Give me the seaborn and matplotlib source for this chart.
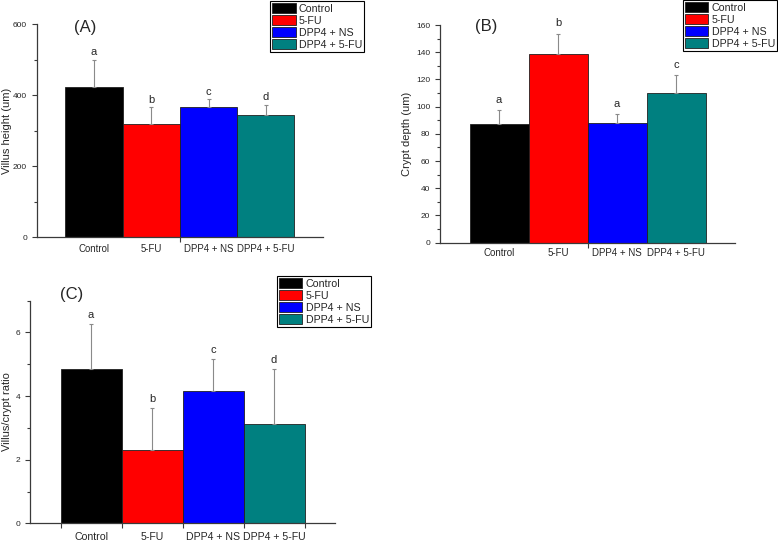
import numpy as np
import matplotlib.pyplot as plt
import seaborn as sns
from matplotlib.patches import Patch
from matplotlib.ticker import MultipleLocator, FixedLocator

# Groups and colours
groups = ['Control', '5-FU', 'DPP4 + NS', 'DPP4 + 5-FU']
colors = ['#000000', '#ff0000', '#0000ff', '#008080']

# (A) villus height
villus_mean = [422, 318, 367, 345]
villus_err = [78, 47, 22, 28]
villus_letters = ['a', 'b', 'c', 'd']

# (B) crypt depth
crypt_mean = [87, 138.5, 88, 110]
crypt_err = [10.5, 15, 6.3, 13]
crypt_letters = ['a', 'b', 'a', 'c']

# (C) villus / crypt ratio
ratio_mean = [4.85, 2.32, 4.15, 3.13]
ratio_err = [1.41, 1.31, 1.02, 1.71]
ratio_letters = ['a', 'b', 'c', 'd']

sns.set_style('ticks')
plt.rcParams['font.family'] = ['Liberation Sans', 'DejaVu Sans']

fig = plt.figure(figsize=(7.78, 5.45), dpi=100)


def draw_panel(rect, mean, err, letters, ylabel, ylim, major, minor, tag, tag_xy,
               ylabel_x, xpad, xtick_pos, letter_off, legend_anchor, xfont):
    ax = fig.add_axes(rect)
    sns.barplot(x=groups, y=mean, hue=groups, palette=colors, width=1, saturation=1,
                edgecolor='#202020', linewidth=0.6, legend=False, ax=ax)
    ax.errorbar(range(len(groups)), mean, yerr=[np.zeros(len(err)), err], fmt='none',
                ecolor='#8a8a8a', elinewidth=0.8, capsize=1.6, capthick=0.8)
    for i, (m, e, l) in enumerate(zip(mean, err, letters)):
        ax.annotate(l, (i, m + e), xytext=(0, letter_off), textcoords='offset points',
                    ha='center', va='center', fontsize=8)

    ax.set_xlim(-1, 4)
    ax.set_ylim(*ylim)
    ax.yaxis.set_major_locator(MultipleLocator(major))
    ax.yaxis.set_minor_locator(MultipleLocator(minor))
    ax.xaxis.set_minor_locator(FixedLocator(xtick_pos))
    ax.tick_params(axis='x', which='major', length=0, pad=xpad, labelsize=xfont)
    ax.tick_params(axis='x', which='minor', length=3.5, width=0.8, color='#3a3a3a')
    ax.tick_params(axis='y', which='major', length=3.5, width=0.8, labelsize=6, color='#3a3a3a')
    ax.tick_params(axis='y', which='minor', length=2, width=0.8, color='#3a3a3a')
    for side in ['top', 'right']:
        ax.spines[side].set_visible(False)
    for side in ['left', 'bottom']:
        ax.spines[side].set_color('#3a3a3a')
        ax.spines[side].set_linewidth(0.9)

    ax.set_ylabel(ylabel, fontsize=8)
    ax.yaxis.set_label_coords(ylabel_x, 0.5)
    ax.set_xlabel('')
    ax.text(tag_xy[0], tag_xy[1], tag, transform=ax.transAxes, fontsize=12,
            ha='center', va='center')

    handles = [Patch(facecolor=c, edgecolor='#202020', linewidth=0.6) for c in colors]
    leg = fig.legend(handles, groups, loc='upper left', bbox_to_anchor=legend_anchor,
                     bbox_transform=fig.transFigure, frameon=True, fancybox=False,
                     edgecolor='black', framealpha=1, fontsize=7.7, handlelength=2.2,
                     handleheight=1.0, handletextpad=0.3, labelspacing=0.15,
                     borderpad=0.2, borderaxespad=0)
    leg.get_frame().set_linewidth(0.8)
    return ax


draw_panel([0.0472, 0.5651, 0.368, 0.3908], villus_mean, villus_err, villus_letters,
           'Villus height (um)', (0, 600), 200, 100, '(A)', (0.169, 0.986),
           -0.086, 5, [1.5], 5.3, (0.347, 0.998), 6.9)

draw_panel([0.5656, 0.5547, 0.3792, 0.3994], crypt_mean, crypt_err, crypt_letters,
           'Crypt depth (um)', (0, 160), 20, 10, '(B)', (0.158, 0.991),
           -0.096, 4, [1.5], 7.5, (0.8775, 1.0), 7.0)

draw_panel([0.0386, 0.0398, 0.392, 0.4085], ratio_mean, ratio_err, ratio_letters,
           'Villus/crypt ratio', (0, 7), 2, 1, '(C)', (0.136, 1.026),
           -0.06, 6.5, [-0.5, 0.5, 1.5, 2.5, 3.5], 6.5, (0.3557, 0.4936), 7.6)

fig.savefig('out.png', dpi=100)
